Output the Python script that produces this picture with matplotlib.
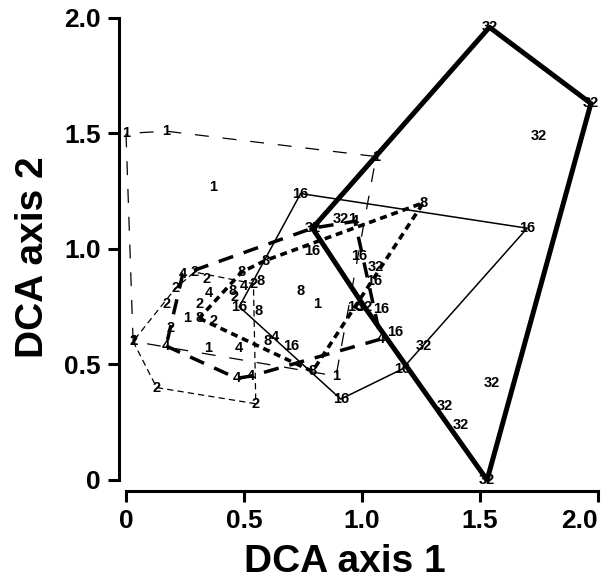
import matplotlib
matplotlib.use("Agg")
import matplotlib.pyplot as plt

plt.rcParams['font.family'] = ['Liberation Sans', 'DejaVu Sans']
plt.rcParams['lines.scale_dashes'] = False

# DCA scores of the samples, one group per label
x_1 = [0.0, 0.17, 1.06, 0.89, 0.03, 0.37, 0.81, 0.35, 0.96, 0.26]
y_1 = [1.50, 1.51, 1.40, 0.45, 0.60, 1.27, 0.76, 0.57, 1.13, 0.70]

x_2 = [0.03, 0.13, 0.55, 0.54, 0.29, 0.34, 0.21, 0.17, 0.31, 0.19, 0.37, 0.46]
y_2 = [0.60, 0.40, 0.33, 0.85, 0.90, 0.87, 0.83, 0.76, 0.76, 0.66, 0.69, 0.79]

x_4 = [0.24, 0.79, 0.97, 1.08, 0.53, 0.47, 0.17, 0.35, 0.48, 0.50, 0.63]
y_4 = [0.89, 1.09, 1.12, 0.61, 0.45, 0.44, 0.58, 0.81, 0.57, 0.84, 0.62]

x_8 = [1.26, 0.59, 0.31, 0.79, 0.49, 0.57, 0.45, 0.56, 0.74, 0.60]
y_8 = [1.20, 0.95, 0.70, 0.47, 0.90, 0.86, 0.82, 0.73, 0.82, 0.60]

x_16 = [0.74, 1.70, 1.17, 0.91, 0.48, 0.79, 0.99, 1.05, 1.08, 1.14, 0.70, 0.97]
y_16 = [1.24, 1.09, 0.48, 0.35, 0.75, 0.99, 0.97, 0.86, 0.74, 0.64, 0.58, 0.75]

x_32 = [0.79, 1.54, 1.97, 1.53, 1.75, 1.55, 1.35, 1.42, 1.26, 0.91, 1.06, 1.01]
y_32 = [1.09, 1.96, 1.63, 0.0, 1.49, 0.42, 0.32, 0.24, 0.58, 1.13, 0.92, 0.75]

groups = [
    ('1', x_1, y_1, dict(lw=0.9, ls=(0, (10, 10)))),
    ('2', x_2, y_2, dict(lw=0.9, ls=(0, (4.5, 3)))),
    ('4', x_4, y_4, dict(lw=2.5, ls=(0, (11, 8)))),
    ('8', x_8, y_8, dict(lw=2.6, ls=(0, (5, 3.5)))),
    ('16', x_16, y_16, dict(lw=1.1, ls='-')),
    ('32', x_32, y_32, dict(lw=3.6, ls='-')),
]


def hull(xs, ys):
    pts = sorted(set(zip(xs, ys)))

    def cross(o, a, b):
        return (a[0] - o[0]) * (b[1] - o[1]) - (a[1] - o[1]) * (b[0] - o[0])

    lower = []
    for p in pts:
        while len(lower) >= 2 and cross(lower[-2], lower[-1], p) <= 0:
            lower.pop()
        lower.append(p)
    upper = []
    for p in reversed(pts):
        while len(upper) >= 2 and cross(upper[-2], upper[-1], p) <= 0:
            upper.pop()
        upper.append(p)
    ring = lower[:-1] + upper[:-1]
    ring.append(ring[0])
    return [p[0] for p in ring], [p[1] for p in ring]


fig = plt.figure(figsize=(6.12, 5.82), dpi=100)
ax = fig.add_axes([0.2059, 0.1753, 0.7712, 0.7938])

for label, xs, ys, style in groups:
    hx, hy = hull(xs, ys)
    ax.plot(hx, hy, color='black', clip_on=False, zorder=2,
            dash_capstyle='butt', solid_capstyle='round', **style)
    for xv, yv in zip(xs, ys):
        ax.text(xv, yv, label, ha='center', va='center', fontsize=10.5,
                fontweight='bold', clip_on=False, zorder=5)

ax.set_xlim(0, 2)
ax.set_ylim(0, 2)
ticks = [0, 0.5, 1.0, 1.5, 2.0]
tick_labels = ['0', '0.5', '1.0', '1.5', '2.0']
ax.set_xticks(ticks)
ax.set_xticklabels(tick_labels)
ax.set_yticks(ticks)
ax.set_yticklabels(tick_labels)

for side in ['top', 'right']:
    ax.spines[side].set_visible(False)
ax.spines['left'].set_position(('outward', 5))
ax.spines['bottom'].set_position(('outward', 8))
for side in ['left', 'bottom']:
    ax.spines[side].set_bounds(0, 2)
    ax.spines[side].set_linewidth(2.2)

ax.tick_params(length=8, width=2.2, labelsize=19, pad=5)
for t in ax.get_xticklabels() + ax.get_yticklabels():
    t.set_fontweight('bold')
ax.get_xticklabels()[-1].set_horizontalalignment('right')

ax.set_xlabel('DCA axis 1', fontsize=28, fontweight='bold',
              ha='center', va='baseline')
ax.set_ylabel('DCA axis 2', fontsize=28, fontweight='bold',
              ha='center', va='baseline')
ax.xaxis.set_label_coords(0.464, -0.2)
ax.yaxis.set_label_coords(-0.176, 0.483)

fig.savefig('out.png', dpi=100)
